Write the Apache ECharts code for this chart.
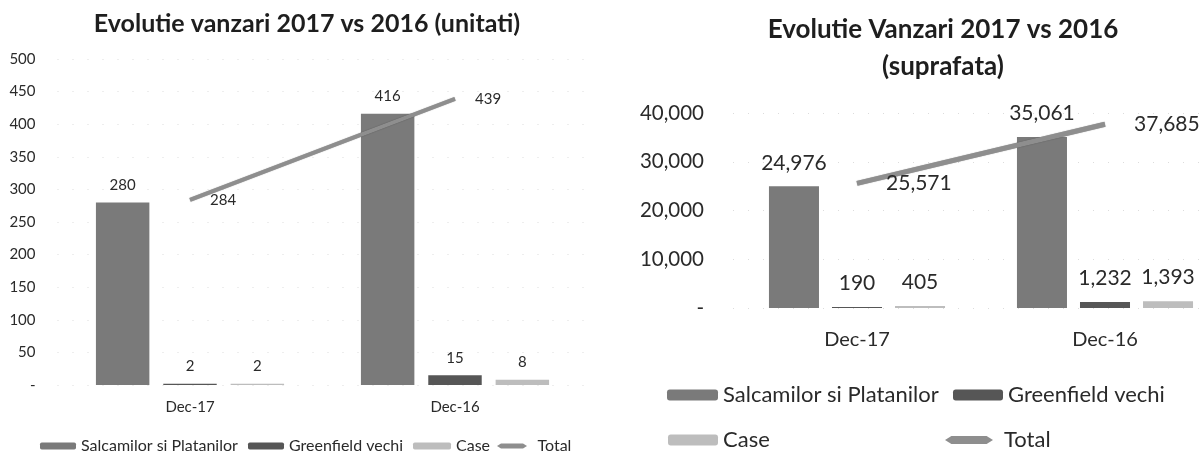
<!DOCTYPE html>
<html>
<head>
<meta charset="utf-8">
<script src="https://cdn.jsdelivr.net/npm/echarts@6/dist/echarts.min.js"></script>
<style>
  html, body { margin: 0; padding: 0; background: #fff; }
  .wrap { display: flex; width: 1200px; height: 452px; }
  .chart { width: 600px; height: 452px; }
</style>
</head>
<body>
<div class="wrap">
  <div id="unitati" class="chart"></div>
  <div id="suprafata" class="chart"></div>
</div>
<script>
// categorii si serii
const categories = ['Dec-17', 'Dec-16'];
const seriesNames = ['Salcamilor si Platanilor', 'Greenfield vechi', 'Case', 'Total'];

// unitati
const unitSalcamilor = [280, 416];
const unitGreenfield = [2, 15];
const unitCase = [2, 8];
const unitTotal = [284, 439];

// suprafata
const supSalcamilor = [24976, 35061];
const supGreenfield = [190, 1232];
const supCase = [405, 1393];
const supTotal = [25571, 37685];

const colors = ['#7a7a7a', '#565656', '#bdbdbd', '#8e8e8e'];
const font = 'Lato';
const textColor = '#2a2a2a';
// icon pentru linia Total in legenda (capete ascutite)
const totalIcon = 'path://M0,5 L8,0 L52,0 L60,5 L52,10 L8,10 Z';

function fmt(v) {
  return v === 0 ? '-' : Number(v).toLocaleString('en-US');
}

function barSeries(name, data, color, fontSize, dist) {
  return {
    name: name,
    type: 'bar',
    data: data,
    barGap: '26%',
    barCategoryGap: '29%',
    itemStyle: { color: color },
    label: {
      show: true,
      position: 'top',
      distance: dist,
      fontFamily: font,
      fontSize: fontSize,
      color: textColor,
      formatter: p => fmt(p.value)
    }
  };
}

function lineSeries(data, width, fontSize, dist) {
  return {
    name: 'Total',
    type: 'line',
    data: data,
    symbol: 'circle',
    symbolSize: 0.1,
    z: 5,
    lineStyle: { color: colors[3], width: width, shadowColor: 'rgba(0,0,0,0.4)', shadowBlur: 1 },
    itemStyle: { color: colors[3] },
    label: {
      show: true,
      position: 'right',
      distance: dist,
      fontFamily: font,
      fontSize: fontSize,
      color: textColor,
      formatter: p => fmt(p.value)
    }
  };
}

// o legenda pentru fiecare element, ca in Excel
function legendItem(name, left, top, w, h, textStyle) {
  return {
    left: left, top: top, itemWidth: w, itemHeight: h, textStyle: textStyle,
    itemGap: 0,
    data: [name === 'Total' ? { name: name, icon: totalIcon } : name]
  };
}

// grafic stanga (unitati)
const chartLeft = echarts.init(document.getElementById('unitati'));
const legendSmall = { fontFamily: font, fontSize: 16, color: textColor };
chartLeft.setOption({
  animation: false,
  title: {
    text: 'Evolutie vanzari 2017 vs 2016 (unitati)',
    left: 302,
    textAlign: 'center',
    top: 6,
    textStyle: { fontFamily: font, fontSize: 25, fontWeight: 'bold', color: '#1e1e1e' }
  },
  legend: [
    legendItem(seriesNames[0], 35, 433, 36, 7, legendSmall),
    legendItem(seriesNames[1], 243, 433, 36, 7, legendSmall),
    legendItem(seriesNames[2], 408, 433, 38, 7, legendSmall),
    legendItem(seriesNames[3], 492, 433, 41, 5, legendSmall)
  ],
  grid: { left: 57.5, right: 12.5, top: 59, bottom: 67, outerBoundsMode: 'none' },
  xAxis: {
    type: 'category',
    data: categories,
    axisLine: { show: false },
    axisTick: { show: false },
    axisLabel: { margin: 15, fontFamily: font, fontSize: 15, color: textColor }
  },
  yAxis: {
    type: 'value',
    min: 0,
    max: 500,
    interval: 50,
    axisLine: { show: false },
    axisTick: { show: false },
    splitLine: { lineStyle: { color: '#dcdcdc', type: [1, 14] } },
    axisLabel: { margin: 22, fontFamily: font, fontSize: 15, color: textColor, formatter: fmt }
  },
  series: [
    barSeries(seriesNames[0], unitSalcamilor, colors[0], 15, 10),
    barSeries(seriesNames[1], unitGreenfield, colors[1], 15, 10),
    barSeries(seriesNames[2], unitCase, colors[2], 15, 10),
    lineSeries(unitTotal, 4, 15, 20)
  ]
});

// grafic dreapta (suprafata)
const chartRight = echarts.init(document.getElementById('suprafata'));
const legendText = { fontFamily: font, fontSize: 22, color: textColor };
chartRight.setOption({
  animation: false,
  title: {
    text: 'Evolutie Vanzari 2017 vs 2016\n(suprafata)',
    left: 338,
    textAlign: 'center',
    top: 6,
    textStyle: { fontFamily: font, fontSize: 26, fontWeight: 'bold', color: '#1e1e1e', lineHeight: 37 }
  },
  legend: [
    legendItem(seriesNames[0], 62, 379, 51, 11, legendText),
    legendItem(seriesNames[1], 348, 379, 50, 11, legendText),
    legendItem(seriesNames[2], 63, 424, 50, 11, legendText),
    legendItem(seriesNames[3], 340, 424, 60, 8, legendText)
  ],
  // zona graficului trece putin de marginea din dreapta, ca in original
  grid: { left: 133, width: 496, top: 113, bottom: 144, outerBoundsMode: 'none' },
  xAxis: {
    type: 'category',
    data: categories,
    axisLine: { show: false },
    axisTick: { show: false },
    axisLabel: { margin: 22, fontFamily: font, fontSize: 20, color: textColor }
  },
  yAxis: {
    type: 'value',
    min: 0,
    max: 40000,
    interval: 10000,
    axisLine: { show: false },
    axisTick: { show: false },
    splitLine: { lineStyle: { color: '#dcdcdc', type: [1, 14] } },
    axisLabel: { margin: 29, fontFamily: font, fontSize: 20.5, color: textColor, formatter: fmt }
  },
  series: [
    barSeries(seriesNames[0], supSalcamilor, colors[0], 21, 13),
    barSeries(seriesNames[1], supGreenfield, colors[1], 21, 13),
    barSeries(seriesNames[2], supCase, colors[2], 21, 13),
    lineSeries(supTotal, 5, 21, 29)
  ]
});
</script>
</body>
</html>
